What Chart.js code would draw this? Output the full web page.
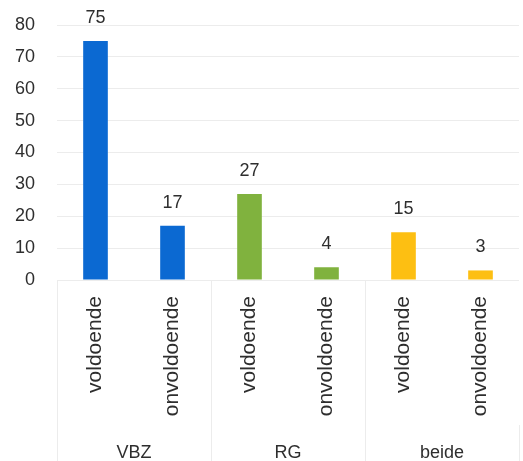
<!DOCTYPE html>
<html>
<head>
<meta charset="utf-8">
<script src="https://cdn.jsdelivr.net/npm/chart.js@4"></script>
<style>
  html, body { margin: 0; padding: 0; background: #ffffff; }
  #wrap { width: 523px; height: 461px; }
</style>
</head>
<body>
<div id="wrap"><canvas id="c" width="523" height="461"></canvas></div>
<script>
// Data
const categories = ['voldoende', 'onvoldoende', 'voldoende', 'onvoldoende', 'voldoende', 'onvoldoende'];
const groups = ['VBZ', 'RG', 'beide'];
const values = [75, 17, 27, 4, 15, 3];
const yTicks = [0, 10, 20, 30, 40, 50, 60, 70, 80];

// Styles
const groupColors = ['#0b69d2', '#80b23e', '#fdbf12'];
const barColors = categories.map((_, i) => groupColors[Math.floor(i / 2)]);
const textColor = '#2e2e2e';
const faint = '#ececec';

const valueLabels = {
  id: 'valueLabels',
  afterDatasetsDraw(chart) {
    const ctx = chart.ctx;
    const meta = chart.getDatasetMeta(0);
    ctx.save();
    ctx.font = '18px "Liberation Sans", Arial, sans-serif';
    ctx.fillStyle = textColor;
    ctx.textAlign = 'center';
    ctx.textBaseline = 'middle';
    meta.data.forEach((bar, i) => {
      ctx.fillText(String(chart.data.datasets[0].data[i]), bar.x, bar.y - 23);
    });
    ctx.restore();
  }
};

new Chart(document.getElementById('c'), {
  type: 'bar',
  data: {
    labels: categories,
    datasets: [{
      data: values,
      backgroundColor: barColors,
      borderWidth: 0,
      categoryPercentage: 1,
      barPercentage: 0.32
    }]
  },
  options: {
    responsive: false,
    animation: false,
    devicePixelRatio: 1,
    layout: { padding: { top: 25, right: 4, left: 0, bottom: 0 } },
    plugins: { legend: { display: false }, tooltip: { enabled: false } },
    scales: {
      x: {
        type: 'category',
        position: 'bottom',
        border: { display: false },
        grid: {
          offset: true,
          drawOnChartArea: false,
          drawTicks: true,
          tickLength: 145,
          color: (c) => (c.index % 2 === 0 ? faint : 'rgba(0,0,0,0)'),
          lineWidth: 1
        },
        ticks: {
          autoSkip: false,
          maxRotation: 90,
          minRotation: 90,
          padding: -129,
          color: textColor,
          font: { family: '"Liberation Sans", Arial, sans-serif', size: 21 }
        },
        afterFit(scale) { scale.height = 145; }
      },
      x2: {
        type: 'category',
        position: 'bottom',
        labels: groups,
        offset: true,
        border: { display: false },
        grid: {
          offset: true,
          drawOnChartArea: false,
          drawTicks: true,
          tickLength: 36,
          color: faint
        },
        ticks: {
          padding: -19,
          color: textColor,
          font: { family: '"Liberation Sans", Arial, sans-serif', size: 18 }
        },
        afterFit(scale) { scale.height = 36; }
      },
      y: {
        min: 0,
        max: 80,
        border: { display: false },
        grid: { color: faint, drawTicks: false },
        afterBuildTicks(scale) { scale.ticks = yTicks.map(v => ({ value: v })); },
        ticks: {
          padding: 22,
          color: textColor,
          font: { family: '"Liberation Sans", Arial, sans-serif', size: 18 }
        },
        afterFit(scale) {
          scale.width = 57;
          scale.paddingTop = 0;
          scale.paddingBottom = 0;
        }
      }
    }
  },
  plugins: [valueLabels]
});
</script>
</body>
</html>
